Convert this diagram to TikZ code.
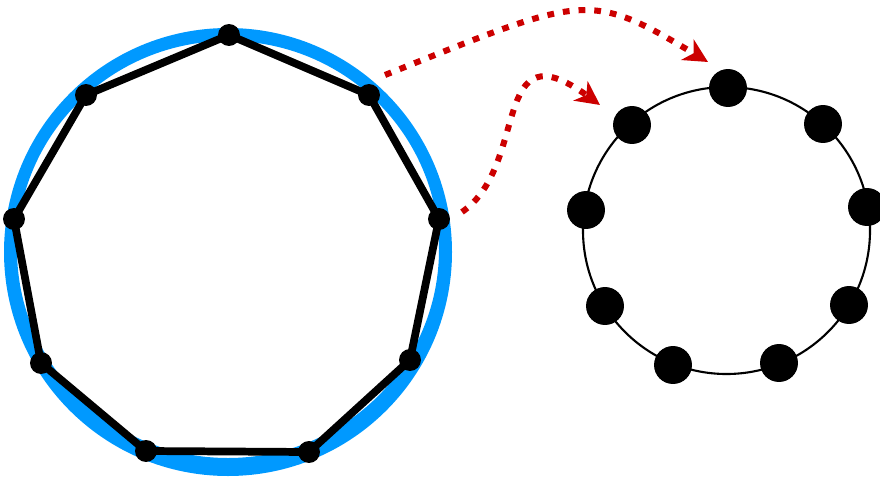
\documentclass[tikz,border=0pt]{standalone}
\usetikzlibrary{arrows.meta}
\definecolor{ringblue}{RGB}{0,153,255}
\definecolor{linkred}{RGB}{204,0,0}
\begin{document}
\begin{tikzpicture}[x=0.025cm, y=0.025cm,
    poly/.style={line width=5.5pt, line join=round},
    vdot/.style={circle, fill=black, inner sep=0pt, minimum size=15.6pt},
    bigdot/.style={circle, fill=black, inner sep=0pt, minimum size=27pt},
    link/.style={linkred, line width=4.3pt, dash pattern=on 4.8pt off 6.4pt,
      -{Stealth[length=17pt, width=17pt, inset=5pt]}}]
  \useasboundingbox (0,0) rectangle (880,476);
  \coordinate (lc) at (228,224);
  \coordinate (ic) at (228,226.5);
  \coordinate (rc) at (726.5,245.5);

  % left: polygon on the blue ring
  \fill[ringblue, even odd rule] (lc) circle (224)
      (ic) ellipse [x radius=211, y radius=208.5];
  \foreach \n/\x/\y in {1/229/441, 2/369/381, 3/439/257, 4/410/116, 5/309/24,
                        6/146/25, 7/41/113, 8/14/257, 9/86/381}
      \coordinate (p\n) at (\x,\y);
  \draw[poly] (p1) \foreach \n in {2,...,9} {-- (p\n)} -- cycle;
  \foreach \n in {1,...,9}
      \node[vdot] (d\n) at (p\n) {};

  % right: dots on the thin circle
  \draw[line width=1.5pt] (rc) circle (143.5);
  \foreach \n/\x/\y in {1/728/388, 2/823/352, 3/867/269, 4/849/171, 5/779/113,
                        6/673/111, 7/605/170, 8/586/266, 9/632/351}
      \node[bigdot] (q\n) at (\x,\y) {};

  \coordinate (s1) at (385,401);
  \coordinate (t1) at (708,414);
  \coordinate (s2) at (462,264);
  \coordinate (t2) at (600,371);
  \draw[link] (s1) .. controls (585,481) and (588,486) .. (t1);
  \draw[link] (s2) .. controls (530,311) and (490,451) .. (t2);
\end{tikzpicture}
\end{document}
